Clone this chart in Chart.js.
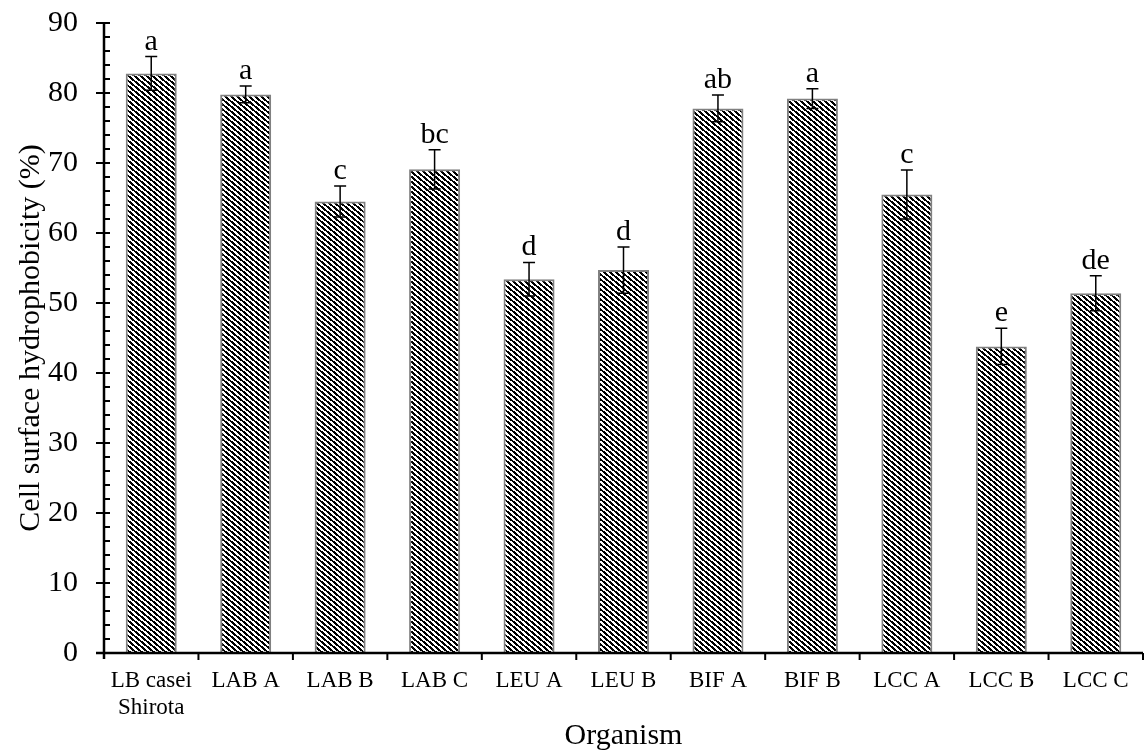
<!DOCTYPE html>
<html>
<head>
<meta charset="utf-8">
<script src="https://cdn.jsdelivr.net/npm/chart.js@4/dist/chart.umd.min.js"></script>
<style>
  body { margin: 0; background: #fff; }
  #wrap { width: 1145px; height: 754px; }
</style>
</head>
<body>
<div id="wrap"><canvas id="hydro" width="1145" height="754"></canvas></div>
<script>
// organisms on the x axis
const organisms = [["LB casei", "Shirota"], "LAB A", "LAB B", "LAB C", "LEU A", "LEU B", "BIF A", "BIF B", "LCC A", "LCC B", "LCC C"];
// mean hydrophobicity (%)
const hydrophobicity = [82.8, 79.8, 64.5, 69.1, 53.4, 54.7, 77.8, 79.2, 65.5, 43.8, 51.4];
// standard deviation
const errors = [2.4, 1.2, 2.2, 2.8, 2.4, 3.3, 1.9, 1.4, 3.5, 2.6, 2.5];
// significance letters
const letters = ["a", "a", "c", "bc", "d", "d", "ab", "a", "c", "e", "de"];
const yTicks = [0, 10, 20, 30, 40, 50, 60, 70, 80, 90];

const serif = "'Liberation Serif', 'Times New Roman', serif";

// black / white diagonal stripes like the excel fill
function makeStripes() {
  const c = document.createElement("canvas");
  c.width = 6;
  c.height = 5;
  const g = c.getContext("2d");
  const img = g.createImageData(6, 5);
  for (let y = 0; y < 5; y++) {
    for (let x = 0; x < 6; x++) {
      const f = (((5 * x - 6 * y) % 30) + 30) % 30;
      const v = f < 15 ? 0 : 255;
      const i = (y * 6 + x) * 4;
      img.data[i] = v; img.data[i + 1] = v; img.data[i + 2] = v; img.data[i + 3] = 255;
    }
  }
  g.putImageData(img, 0, 0);
  return g.createPattern(c, "repeat");
}

// axis lines, ticks, error bars and letters
const extras = {
  id: "extras",
  afterDatasetsDraw(chart) {
    const ctx = chart.ctx;
    const ys = chart.scales.y;
    const left = chart.chartArea.left, right = chart.chartArea.right;
    const top = chart.chartArea.top, bottom = chart.chartArea.bottom;
    ctx.save();
    ctx.strokeStyle = "#000";

    // error bars
    ctx.lineWidth = 1.5;
    const meta = chart.getDatasetMeta(0);
    meta.data.forEach((bar, i) => {
      const hi = ys.getPixelForValue(hydrophobicity[i] + errors[i]);
      const lo = ys.getPixelForValue(hydrophobicity[i] - errors[i]);
      ctx.beginPath();
      ctx.moveTo(bar.x, hi); ctx.lineTo(bar.x, lo);
      ctx.moveTo(bar.x - 6, hi); ctx.lineTo(bar.x + 6, hi);
      ctx.moveTo(bar.x - 6, lo); ctx.lineTo(bar.x + 6, lo);
      ctx.stroke();
      ctx.fillStyle = "#000";
      ctx.font = "30px " + serif;
      ctx.textAlign = "center";
      ctx.textBaseline = "alphabetic";
      ctx.fillText(letters[i], bar.x, hi - 7);
    });

    // axes
    ctx.lineWidth = 2.5;
    ctx.beginPath();
    ctx.moveTo(left, top); ctx.lineTo(left, bottom + 6);
    ctx.moveTo(left - 8, bottom); ctx.lineTo(right, bottom);
    ctx.stroke();

    // y ticks: major cross the axis, minor inside
    ctx.lineWidth = 2;
    ctx.beginPath();
    for (let v = 0; v <= 90; v += 2) {
      const py = ys.getPixelForValue(v);
      if (v % 10 === 0) {
        ctx.moveTo(left - 8, py); ctx.lineTo(left + 6, py);
      } else {
        ctx.moveTo(left, py); ctx.lineTo(left + 6, py);
      }
    }
    // x ticks between categories
    const step = (right - left) / organisms.length;
    for (let i = 1; i <= organisms.length; i++) {
      const px = left + i * step;
      ctx.moveTo(px, bottom); ctx.lineTo(px, bottom + 7);
    }
    ctx.stroke();
    ctx.restore();
  }
};

const ctx = document.getElementById("hydro").getContext("2d");
const hydroChart = new Chart(ctx, {
  type: "bar",
  data: {
    labels: organisms,
    datasets: [
      {
        data: hydrophobicity,
        backgroundColor: makeStripes(),
        borderColor: "#808080",
        borderWidth: 2,
        barPercentage: 0.54,
        categoryPercentage: 1.0,
      },
    ],
  },
  options: {
    responsive: false,
    animation: false,
    layout: { padding: { top: 23, right: 2, left: 0, bottom: 0 } },
    plugins: {
      legend: { display: false },
      tooltip: { enabled: false },
    },
    scales: {
      x: {
        grid: { display: false, drawTicks: false },
        border: { display: false },
        ticks: {
          color: "#000",
          font: { family: serif, size: 23 },
          padding: 14,
          maxRotation: 0,
          autoSkip: false,
        },
        title: {
          display: true,
          text: "Organism",
          color: "#000",
          font: { family: serif, size: 30 },
          padding: { top: 0, bottom: 0 },
        },
        afterFit: (scale) => { scale.height = 101; },
      },
      y: {
        min: 0,
        max: 90,
        afterBuildTicks: (scale) => { scale.ticks = yTicks.map((v) => ({ value: v })); },
        grid: { display: false, drawTicks: false },
        border: { display: false },
        ticks: {
          color: "#000",
          font: { family: serif, size: 30 },
          padding: 26,
        },
        title: {
          display: true,
          text: "Cell surface hydrophobicity (%)",
          color: "#000",
          font: { family: serif, size: 30 },
          padding: { top: 13, bottom: 0 },
        },
        afterFit: (scale) => {
          scale.width = 104;
          scale.paddingTop = 0;
          scale.paddingBottom = 0;
        },
      },
    },
  },
  plugins: [extras],
});
</script>
</body>
</html>
